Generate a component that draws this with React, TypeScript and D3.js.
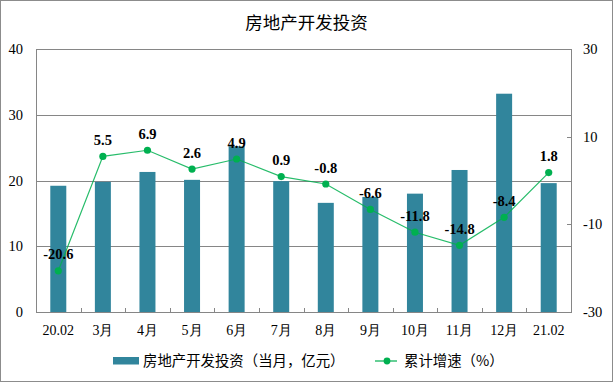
import React from "react";
import * as d3 from "d3";

const categories = ["20.02", "3月", "4月", "5月", "6月", "7月", "8月", "9月", "10月", "11月", "12月", "21.02"];
const investment = [19.2, 19.8, 21.3, 20.1, 25.2, 19.9, 16.6, 17.5, 18.0, 21.6, 33.2, 19.6];
const growth = [-20.6, 5.5, 6.9, 2.6, 4.9, 0.9, -0.8, -6.6, -11.8, -14.8, -8.4, 1.8];
const leftTicks = [0, 10, 20, 30, 40];
const rightTicks = [-30, -10, 10, 30];
const title = "房地产开发投资";
const barLegend = "房地产开发投资（当月，亿元）";
const lineLegend = "累计增速（%）";

const W = 613, H = 382;
const m = { left: 36, right: 571, top: 49, bottom: 312 };
const BAR = "#31859C";
const GREEN = "#00B050";
const GRID = "#868686";
const SERIF = "'Liberation Serif', 'Times New Roman', serif";
const CJK = "'Noto Sans CJK SC', sans-serif";

export default function App() {
  const x = d3.scaleBand<string>().domain(categories).range([m.left, m.right]);
  const yL = d3.scaleLinear().domain([0, 40]).range([m.bottom, m.top]);
  const yR = d3.scaleLinear().domain([-30, 30]).range([m.bottom, m.top]);
  const bw = 16;
  const cx = (c: string) => (x(c) as number) + x.bandwidth() / 2;
  const line = d3.line<number>().x((_, i) => cx(categories[i])).y((d) => yR(d));

  return (
    <svg width={W} height={H} style={{ position: "absolute", left: 0, top: 0, background: "#fff" }}>
      <rect x={0.5} y={0.5} width={W - 1} height={H - 1} fill="#fff" stroke="#8c8c8c" />
      <text x={W / 2} y={29} textAnchor="middle" fontFamily={CJK} fontSize={17.5} fill="#000">{title}</text>

      {leftTicks.slice(1, -1).map((t) => (
        <line key={t} x1={m.left} x2={m.right} y1={Math.round(yL(t)) + 0.5} y2={Math.round(yL(t)) + 0.5} stroke={GRID} />
      ))}
      {rightTicks.slice(1, -1).map((t) => (
        <line key={t} x1={m.right - 4} x2={m.right} y1={Math.round(yR(t)) + 0.5} y2={Math.round(yR(t)) + 0.5} stroke={GRID} />
      ))}
      {categories.slice(1).map((c) => (
        <line key={c} x1={Math.round(x(c) as number) + 0.5} x2={Math.round(x(c) as number) + 0.5} y1={m.bottom - 4} y2={m.bottom} stroke={GRID} />
      ))}

      {categories.map((c, i) => (
        <rect key={c} x={cx(c) - bw / 2} y={yL(investment[i])} width={bw} height={yL(0) - yL(investment[i])} fill={BAR} />
      ))}

      <rect x={m.left + 0.5} y={m.top + 0.5} width={m.right - m.left} height={m.bottom - m.top} fill="none" stroke={GRID} />

      <path d={line(growth) || ""} fill="none" stroke={GREEN} strokeWidth={1.2} strokeOpacity={0.85} />
      {growth.map((g, i) => (
        <circle key={i} cx={cx(categories[i])} cy={yR(g)} r={3.6} fill={GREEN} />
      ))}
      {growth.map((g, i) => (
        <text key={i} x={cx(categories[i])} y={yR(g) - 11.5} textAnchor="middle" fontFamily={SERIF} fontWeight="bold" fontSize={14.5} fill="#000">{g.toFixed(1)}</text>
      ))}

      {leftTicks.map((t) => (
        <text key={t} x={23} y={yL(t) + 5} textAnchor="end" fontFamily={SERIF} fontSize={14.5} fill="#000">{t}</text>
      ))}
      {rightTicks.map((t) => (
        <text key={t} x={583} y={yR(t) + 5} textAnchor="start" fontFamily={SERIF} fontSize={14.5} fill="#000">{t}</text>
      ))}
      {categories.map((c) => (
        <text key={c} x={cx(c)} y={335} textAnchor="middle" fontFamily={SERIF} fontSize={14} fill="#000">{c}</text>
      ))}

      <rect x={113} y={357} width={26} height={7.5} fill={BAR} />
      <text x={143} y={366} fontFamily={CJK} fontSize={14.4} fill="#000">{barLegend}</text>
      <line x1={375} x2={397} y1={361} y2={361} stroke={GREEN} strokeWidth={1.2} />
      <circle cx={387} cy={361} r={3.4} fill={GREEN} />
      <text x={404} y={366} fontFamily={CJK} fontSize={14.4} fill="#000">{lineLegend}</text>
    </svg>
  );
}
